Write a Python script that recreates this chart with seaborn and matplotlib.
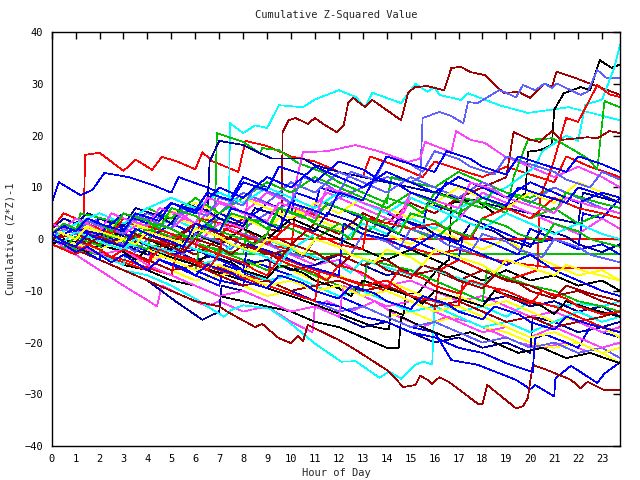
import matplotlib
matplotlib.use("Agg")
import matplotlib.pyplot as plt
import pandas as pd
import seaborn as sns

# each series: (hour, cumulative value) knots
red_a = [(0, 0), (0.5, -1), (1.3, -1.5), (1.4, 16.3), (2, 16.7), (2.4, 15.3), (3, 13.2), (3.5, 15.4), (4.2, 13.4), (4.6, 15.9), (5.2, 15.1), (6, 13.5), (6.3, 16.8), (6.7, 15.1), (7.8, 13), (8.1, 19), (9, 18), (10, 16), (11, 15), (12, 13), (13, 12), (13.3, 16), (14.5, 14), (15.5, 12), (16, 15), (17, 13.5), (18, 12), (19, 14), (20, 12.5), (21, 11), (21.5, 16), (22.5, 14), (23.75, 12)]
red_b = [(0, 0), (1, 2), (2, 0.5), (3, -1), (3.2, 3), (4.5, 1), (5.5, 0), (23.75, 0)]
red_c = [(0, 0), (1.5, -2), (2, 2), (4, 0), (6, -2), (6.2, 4), (8, 2), (9, -1), (10, -2), (10.2, 6), (12, 3), (13, 1), (14.5, -1), (16, -3), (17, -2), (18.5, -4), (20, -5), (21, -5.6), (23.75, -5.6)]
red_d = [(0, 0), (2, -3), (4, -6), (4.2, -2), (6, -4), (8, -7), (9, -8), (9.2, -3), (11, -6), (12.5, -8), (14, -10), (15, -12), (16, -14), (16.2, -6), (17, -4), (18, -6), (19, -8), (20.3, -6), (20.4, 8), (20.9, 13.8), (21.5, 23.4), (22, 22.7), (22.8, 29.8), (23.3, 28), (23.75, 27.5)]
red_e = [(0, 0), (1, -1.5), (3, -4), (5, -7), (5.2, -3), (7, -6), (9, -9), (11, -12), (11.2, -6), (13, -9), (14, -8), (15, -11), (17, -13), (17.2, -8), (19, -10), (20, -12), (21, -13), (22, -15), (23, -17), (23.75, -18)]
red_f = [(0, 2), (0.5, 5), (1.5, 3), (2.5, 1), (3, 4), (5, 1), (6, -1), (7, -3), (7.2, 2), (9, -1), (10, 3), (11, 1), (12, -1), (13, -2), (13.2, 4), (15, 2), (16, 3), (17.5, 0), (18, 4), (19, 6), (20, 4), (21, 8), (22, 6), (23, 5), (23.75, 4)]
red_g = [(0, -1), (0.5, -2), (1, -3), (1.5, -1), (2, -2), (2.5, -3.5), (3, -2), (3.5, -3), (4, -4.5), (4.5, -2), (5, -3), (6, -4.5), (6.5, -6), (7, -3), (8, -4.5), (8.5, -6), (9, -7), (9.5, -4), (10, -5), (11, -6.5), (11.5, -8), (12, -5), (13, -6.5), (13.5, -8), (14, -9.5), (14.5, -6), (15.5, -7.5), (16, -9), (17, -10.5), (17.5, -8), (18.5, -9.5), (19, -11), (20, -12.5), (20.5, -10), (21.5, -11.5), (22, -13), (23, -14.5), (23.75, -14)]

green_a = [(0, 0), (1, -1), (2, 1), (3, -1), (4, -2), (5, 0), (6, -2), (7.4, -2.9), (23.75, -2.9)]
green_b = [(0, 0), (1, -1), (2, 1.5), (3, 0), (4, 3), (5, 1), (6, 0), (6.8, 0), (6.9, 20.5), (7.4, 19.7), (8, 18.8), (8.7, 16.6), (8.8, 17.6), (9.5, 17.2), (10.3, 14.7), (11.3, 13), (12, 11), (13, 9), (14, 7), (14.2, 12), (15, 11), (16, 10), (17, 13), (18, 11), (19, 9), (20, 8), (21, 10), (22, 8), (23, 6), (23.75, 5)]
green_c = [(0, 0), (1, 3), (2, 1), (3, -1), (4, 2), (6, -1), (8, -3), (8.2, 4), (10, 2), (11, 0), (12, 3), (13, 1), (14, 4), (15, 2), (16, 0), (17, 4), (17.2, 8), (18, 7), (19, 5), (19.3, 12), (19.9, 19.2), (20.9, 19.5), (21.3, 18.6), (22.4, 15.6), (22.8, 13.5), (23.1, 26.7), (23.75, 25.5)]
green_d = [(0, 0), (1, -2), (2, -3), (2.2, 1), (4, -2), (5, -4), (6, -6), (6.2, -1), (8, -4), (9, -6), (10, -5), (11, -7), (12, -9), (13, -10), (13.2, -4), (15, -6), (16, -8), (17, -10), (18, -12), (18.2, -6), (20, -9), (21, -10), (22, -12), (23, -13), (23.75, -14)]
green_e = [(0, 0), (1, 1), (1.2, 5), (3, 3), (4, 6), (5, 4), (6, 8), (7, 5), (8, 8), (9, 11), (10, 9), (11, 12), (12, 10), (13, 8), (14, 6), (15, 9), (16, 7), (17, 5), (18, 8), (19, 6), (20, 4), (21, 6), (22, 3), (23, 5), (23.75, 4)]
green_f = [(0, -1), (0.5, -1.8), (1, 0.5), (1.5, -0.5), (2, -1.3), (2.5, 1), (3, 0), (3.5, -1), (4, -2), (4.25, 3), (5, 2), (5.5, 0.8), (6, 0), (6.5, 2.5), (7, 1.5), (8, 0), (8.5, -1), (9, 1), (9.5, 6), (10, 5), (11, 3.5), (11.5, 7), (12, 6), (13, 4.5), (13.5, 3), (14, 8), (15, 6.5), (15.5, 5), (16, 9), (17, 7.5), (18, 6), (18.5, 10), (19.5, 8), (20.5, 6.5), (21, 5), (21.5, 9), (22.5, 7.5), (23.75, 6)]
green_g = [(0, 1), (0.5, 3), (1, 2), (1.5, 4), (2, 3), (2.5, 1.5), (3, 5), (4, 3.5), (4.5, 2), (5, 6), (6, 4.5), (6.5, 3), (7, 1.5), (7.5, 5), (8.5, 3.5), (9, 2), (9.5, 6), (10.5, 4.5), (11, 3), (12, 1.5), (12.5, 0), (13, 4), (14, 2.5), (14.5, 1), (15, 5), (16, 3.5), (16.5, 2), (17.5, 0.5), (18, 4), (19, 2.5), (19.5, 1), (20.5, -0.5), (21, 3), (22, 1.5), (22.5, 0), (23.75, -1.5)]

blue_a = [(0, 7), (0.3, 11), (1.2, 8.5), (1.7, 9.5), (2.2, 12.8), (3.2, 12), (4.2, 10.5), (5, 9), (5.3, 12), (6.5, 10), (7.5, 8), (8, 12), (9, 10), (10, 8), (11, 6), (11.2, 10), (12.5, 8), (13.5, 6), (14.5, 4), (15.5, 2), (15.7, 7), (17, 5), (18, 3), (19, 1), (20, -1), (21, 0), (22, -2), (23, -1), (23.75, -3)]
blue_b = [(0, 0), (1, -2), (2, -3), (3, -5), (3.2, -1), (5, -4), (6, -6), (7, -8), (8, -9), (8.2, -4), (10, -7), (11, -9), (12, -11), (13, -13), (14, -15), (15, -17), (16, -18), (16.7, -23.4), (17.8, -24.3), (19.4, -27.2), (20, -29), (20.2, -28.2), (21, -30.4), (21.05, -26.9), (21.7, -24.5), (22.8, -27.8), (23.1, -26), (23.75, -23.8)]
blue_c = [(0, 0), (1, -1.5), (2, -4), (2.2, 0), (4, -3), (5, -5), (6, -7), (7, -9), (7.2, -5), (9, -8), (10, -10), (11, -12), (12, -13), (13, -15), (14, -16), (15, -18), (16, -19), (17, -21), (18, -22), (19, -24), (20.1, -25.7), (20.2, -19.2), (20.6, -18.4), (21.5, -20), (22, -21), (22.5, -17), (23, -18), (23.75, -19)]
blue_d = [(0, 0), (0.5, 3), (1.5, 1), (2, 4), (3, 2), (4, 0), (5, 3), (6, 1), (7, 5), (8, 3), (9, 7), (10, 5), (10.2, 9), (12, 6), (13, 4), (14, 2), (15, 0), (16, -2), (17, -4), (17.2, 1), (18.5, -1), (19.5, -3), (20, 2), (21, 0), (22, -2), (22.2, 5), (23, 4), (23.75, 8)]
blue_e = [(0, 0), (1, -1), (2, -2), (3, 1), (4, -1), (5, -3), (6, -2), (7, -4), (8, -6), (8.2, -1), (9.5, -3), (10.5, -5), (12, -7), (12.2, 3), (13, 1), (14, 0), (15, -2), (16, 1), (17, -1), (18, -3), (19, -5), (20, -3), (21, -6), (22, -8), (23, -10), (23.75, -11)]
blue_f = [(0, 0), (1, 2), (2, 1), (3, 5), (4, 3), (5, 7), (6, 5), (7, 10), (8, 8), (9, 12), (10, 10), (11, 14), (12, 12), (13, 10), (14, 13), (15, 11), (16, 9), (17, 12), (18, 10), (19, 8), (20, 11), (21, 9), (22, 7), (23, 9), (23.75, 8)]
blue_g = [(0, 1), (0.5, -0.5), (1, -1.5), (1.5, 1), (2, 0), (3, -1.5), (3.5, 2), (4, 1), (5, -0.5), (5.5, -1.5), (6, 3), (7, 1.5), (7.5, 6), (8.5, 4.5), (9, 3), (9.5, 2), (10, 7), (11, 5.5), (11.5, 4.5), (12, 9), (13, 7.5), (13.5, 12), (14.5, 10.5), (15, 9), (16, 7.5), (16.5, 11), (17.5, 9.5), (18, 8), (19, 6.5), (19.5, 10), (20.5, 8.5), (21.5, 7), (22, 10), (23, 8.5), (23.75, 7)]
blue_h = [(0, 0), (0.5, -1), (1, -2.5), (1.5, -1.5), (2, -3), (2.5, -4.5), (3, -3), (3.5, -4.5), (4, -6), (4.5, -4), (5.5, -5.5), (6, -7), (6.5, -5), (7.5, -6.5), (8, -8), (9, -9.5), (9.5, -7), (10.5, -8.5), (11, -10), (12, -11.5), (12.5, -9), (13.5, -10.5), (14, -12), (15, -13.5), (15.5, -11), (16.5, -12.5), (17, -14), (18, -15.5), (18.5, -13), (19.5, -14.5), (20, -16), (21, -17.5), (21.5, -15), (22.5, -16.5), (23.75, -18)]
blue_i = [(0, 1), (0.5, 2.5), (1, 1.5), (1.5, 4), (2, 3), (3, 1.5), (3.5, 5), (4.5, 3.5), (5, 7), (6, 5.5), (6.5, 9), (7.5, 7.5), (8, 11), (9, 9.5), (9.5, 14), (10.5, 12.5), (11, 11), (12, 15), (13, 13.5), (13.5, 12), (14, 16), (15, 14.5), (16, 13), (16.5, 17), (17.5, 15.5), (18, 14), (19, 12.5), (19.5, 16), (20.5, 14.5), (21.5, 13), (22, 16), (23, 14.5), (23.75, 13)]

mag_a = [(0, 0), (1, -3), (2, -6), (3, -9), (4, -11.8), (4.4, -13), (4.6, -9), (5.5, -11), (6.5, -13), (7, -12), (8, -14), (9, -13), (10, -16), (10.9, -18), (11, -13), (11.5, -12), (12.5, -14), (13.5, -12), (14.5, -15), (15.5, -17), (16.5, -15), (17.5, -16), (18.5, -18), (19.5, -20), (20.5, -21), (21.5, -20), (22.5, -22), (23.75, -24)]
mag_b = [(0, 0), (1, 2), (2, 0), (3, 4), (4, 2), (5, 5), (6, 3), (7, 7), (8, 5), (9, 9), (10, 7), (10.5, 16.8), (11.5, 17), (12.7, 18.2), (13.8, 16.8), (14.9, 14.9), (15.4, 15.6), (15.6, 18.8), (16.7, 16.8), (16.9, 20.9), (17.5, 19.2), (18.1, 18.6), (19, 15.8), (20, 14), (21, 12), (22, 14), (23, 12), (23.75, 10)]
mag_c = [(0, 0), (1, -2), (1.2, 2), (2.5, 0), (3.5, -2), (4.5, -4), (5, 1), (6, -1), (7, 3), (8, 1), (9, -1), (10, -3), (11, -5), (12, -4), (13, -7), (14, -9), (15, -8), (16, -10), (17, -12), (18, -11), (19, -13), (20, -15), (21, -14), (22, -16), (23, -18), (23.75, -17)]
mag_d = [(0, 0), (1, 1), (2, 3), (3, 1), (4, 4), (5, 2), (6, 6), (7, 4), (8, 2), (8.2, 8), (9.5, 6), (10.5, 4), (11.5, 9), (12.5, 7), (13.5, 5), (14.5, 3), (15, 8), (16, 6), (17, 4), (18, 9), (19, 7), (20, 5), (21, 3), (22, 1), (23, 4), (23.75, 2)]
mag_e = [(0, 0), (1, -1), (2, -3), (3, -2), (4, -5), (5, -7), (6, -9), (7, -11), (8, -10), (9, -12), (10, -14), (11, -13), (12, -15), (12.2, -9), (13, -11), (14, -13), (15, -12), (16, -14), (17, -16), (18, -18), (19, -17), (20, -19), (21, -17), (22, -19), (23, -21), (23.75, -20)]
mag_f = [(0, 3), (0.5, 2), (1, 4), (1.5, 3), (2, 1.5), (2.5, 5), (3, 4), (4, 2.5), (4.5, 6), (5.5, 4.5), (6, 3), (6.5, 8), (7.5, 6.5), (8, 5), (9, 3.5), (9.5, 7), (10.5, 5.5), (11, 4), (11.5, 10), (12.5, 8.5), (13, 7), (14, 5.5), (14.5, 4), (15, 9), (16, 7.5), (17, 6), (17.5, 11), (18.5, 9.5), (19, 8), (20, 6.5), (21, 5), (21.5, 8), (22.5, 6.5), (23.75, 5)]

cyan_a = [(0, 0), (1, 2), (2, 0), (3, 3), (4, 1), (5, 4), (6, 2), (7, 4), (7.4, 3), (7.45, 22.4), (8, 20.5), (8.5, 22), (9, 21.5), (9.5, 25.9), (10.5, 25.5), (11, 27), (12, 28.8), (12.7, 27.5), (13.1, 25.5), (13.4, 28.3), (14.6, 26.3), (15.2, 30), (15.7, 28.5), (16, 29.4), (16.2, 27.9), (17.1, 26.9), (17.4, 28.2), (18.7, 25.9), (19.9, 24.4), (21.6, 25.5), (23.75, 23)]
cyan_b = [(0, 0), (1, -2), (2, -4), (3, -6), (4, -7), (5, -9), (6.1, -11.8), (7.2, -15), (7.5, -13.7), (8, -12.8), (9.1, -13.4), (9.9, -16), (11, -20.2), (12.1, -23.7), (12.7, -23.6), (13.7, -26.8), (14.1, -25.6), (14.6, -27), (15.2, -24.3), (15.5, -23.7), (15.9, -24.2), (16, -12), (17, -14), (18, -13), (19, -15), (20, -12), (21, -13), (22, -12.5), (23, -13), (23.75, -12)]
cyan_c = [(0, 0), (1, 1), (2, -1), (3, 2), (4, 0), (5, -2), (6, 1), (7, -1), (8, 2), (9, 0), (10, -2), (11, 1), (12, -1), (13, 3), (14, 1), (15, 4), (16, 2), (17, 6), (18, 8), (19, 10), (20.2, 14), (20.5, 17), (21.5, 20), (22, 19), (22.3, 26), (23, 27), (23.5, 33), (23.75, 37.5)]
cyan_d = [(0, 0), (1, -1), (2, -3), (3, -5), (3.2, -1), (5, -3), (6, -5), (7, -4), (8, -6), (9, -8), (10, -7), (11, -9), (12, -11), (13, -10), (14, -12), (15, -14), (16, -13), (17, -15), (18, -17), (19, -16), (20, -18), (21, -16), (22, -14), (23, -16), (23.75, -15)]
cyan_e = [(0, 0), (1, 3), (2, 5), (3, 3), (4, 6), (5, 8), (6, 6), (7, 9), (8, 7), (9, 10), (10, 8), (11, 6), (12, 9), (13, 7), (14, 5), (15, 8), (16, 6), (17, 4), (18, 2), (19, 5), (20, 3), (21, 1), (22, 3), (23, 1), (23.75, 0)]
cyan_f = [(0, 0.5), (0.5, -0.5), (1, 1.5), (1.5, 0.5), (2, -0.5), (3, -2), (3.5, 0), (4, -1), (5, -2.5), (5.5, -1), (6, -2), (7, -3.5), (7.5, -1), (8, -2), (9, -3.5), (9.5, -5), (10, -2), (11, -3.5), (12, -5), (12.5, -6.5), (13, -4), (14, -5.5), (15, -7), (15.5, -5), (16, -6), (17, -7.5), (18, -9), (18.5, -7), (19.5, -8.5), (20, -10), (21, -11.5), (21.5, -9), (22.5, -10.5), (23.75, -12)]

dred_a = [(0, 0), (1, -1), (2, 1), (3, -1), (4, 2), (5, 0), (6, 3), (7, 1), (8, 4), (9, 2), (9.6, 1.5), (9.65, 20.7), (9.9, 23), (10.2, 23.4), (10.7, 22.3), (11, 23.4), (11.4, 22.1), (11.9, 20.7), (12.2, 22), (12.4, 26.5), (12.6, 27.3), (13.1, 25.5), (13.4, 26.9), (14.6, 23), (14.9, 28.4), (15.2, 29.4), (15.7, 29.6), (16.4, 28.8), (16.7, 33.1), (17.1, 33.3), (17.5, 32.3), (18.1, 31.7), (18.9, 28.2), (19.5, 28.5), (20, 27.3), (20.6, 30.1), (20.9, 29.4), (21.1, 32.4), (21.8, 31.3), (23.75, 27.9)]
dred_b = [(0, 0), (1, -2), (2, -4), (3, -6), (4, -8), (5, -10), (6, -12), (7, -13), (7.4, -14.2), (8.5, -17), (8.8, -16.4), (9.5, -19.2), (10, -20.1), (10.3, -18.7), (10.5, -19.8), (10.7, -16.6), (12, -19.5), (12.7, -21.4), (14, -25.3), (14.7, -28.6), (15.2, -28.2), (15.4, -26.4), (15.7, -27.2), (15.9, -28), (16.2, -26.7), (16.6, -27.6), (17.8, -31.8), (18, -32), (18.2, -28.2), (19.4, -32.7), (19.7, -32.3), (19.9, -30.7), (20.1, -24.3), (20.7, -25.3), (21.7, -27.2), (22.1, -28.8), (22.4, -27.6), (23.1, -29.2), (23.75, -29.2)]
dred_c = [(0, 0), (1, 2), (2, 0), (3, -2), (4, 1), (5, -1), (6, -3), (7, 0), (8, -2), (9, 1), (10, -1), (11, 3), (12, 1), (13, 5), (14, 3), (15, 7), (16, 5), (17, 8), (18, 10), (19, 12), (19.3, 20.7), (20, 19.2), (20.4, 18.8), (20.9, 20.9), (21.3, 19.2), (22.4, 19.7), (22.8, 19.5), (23.3, 20.9), (23.75, 20.5)]
dred_d = [(0, 0), (1, -1), (2, -3), (3, -2), (4, -4), (5, -6), (6, -5), (7, -7), (8, -9), (9, -8), (10, -10), (11, -9), (12, -8), (13, -10), (14, -9), (15, -11), (16, -13), (17, -12), (18, -14), (19, -16), (20, -15), (21, -17), (22, -16), (23, -15), (23.75, -14)]
dred_e = [(0, 0), (1, 1), (2, -1), (3, 0), (4, -2), (5, -1), (6, 3), (7, 1), (8, -1), (9, -3), (10, -2), (11, -4), (12, -3), (13, -5), (14, -4), (15, -7), (16, -6), (17, -8), (18, -6), (19, -8), (20, -9), (21, -11), (22, -10), (23, -12), (23.75, -13)]
dred_f = [(0, 0), (0.5, 1), (1, 0), (1.5, -1), (2, 0.5), (2.5, -0.5), (3, -1.5), (3.5, 1), (4, 0), (5, -1.5), (5.5, -2.5), (6, 0), (7, -1.5), (7.5, -3), (8, -1), (9, -2.5), (9.5, -4), (10, -1), (11, -2.5), (11.5, -4), (12, -5.5), (12.5, -3), (13.5, -4.5), (14, -6), (15, -7.5), (15.5, -5), (16.5, -6.5), (17, -8), (18, -9.5), (18.5, -7), (19.5, -8.5), (20, -10), (21, -11.5), (21.5, -9), (22.5, -10.5), (23.75, -12)]

yel_a = [(0, 0), (1, -2), (2, -3), (3, -5), (4, -4), (5, -6), (6, -8), (7, -7), (8, -9), (9, -11), (10, -10), (11, -12), (12, -14), (13, -13), (14, -15), (15, -14), (16, -16), (17, -15), (18, -17), (19, -18), (20, -20), (21, -21), (22, -20), (23, -22), (23.75, -24)]
yel_b = [(0, 0), (1, 2), (2, 1), (3, 3), (4, 2), (5, 4), (6, 3), (7, 5), (8, 4), (9, 2), (10, 6), (11, 4), (12, 2), (13, 3), (14, 1), (15, -1), (16, 2), (17, 0), (18, -2), (19, 0), (20, -3), (21, -5), (22, -7), (23, -6), (23.75, -8)]
yel_c = [(0, 0), (1, -1), (2, 0), (3, -2), (4, -4), (5, -3), (6, -5), (7, -7), (8, -6), (9, -4), (10, -6), (11, -8), (12, -7), (13, -9), (14, -8), (15, -10), (16, -12), (17, -11), (18, -13), (19, -12), (20, -14), (21, -16), (22, -15), (23, -17), (23.75, -19)]
yel_d = [(0, 0), (1, 3), (2, 1), (3, 4), (4, 2), (5, 5), (6, 7), (7, 5), (8, 8), (9, 6), (10, 4), (11, 7), (12, 5), (13, 8), (14, 6), (15, 4), (16, 7), (17, 10), (18, 8), (19, 6), (20, 9), (21, 7), (22, 11), (23, 9), (23.75, 7)]
yel_e = [(0, 0), (1, -1), (2, -2), (3, 0), (4, -2), (5, -4), (6, -6), (7, -5), (8, -7), (9, -9), (10, -8), (11, -10), (12, -9), (13, -11), (14, -10), (15, -12), (16, -14), (17, -13), (18, -15), (19, -17), (20, -19), (21, -18), (22, -20), (23, -22), (23.75, -21)]
yel_f = [(0, 2), (0.5, 1), (1, 0), (1.5, 2.5), (2, 1.5), (3, 0), (3.5, -1), (4, 1.5), (5, 0), (5.5, -1), (6, 2), (7, 0.5), (7.5, -1), (8.5, -2.5), (9, 0), (10, -1.5), (10.5, -3), (11, 0), (12, -1.5), (12.5, -3), (13.5, -4.5), (14, -2), (15, -3.5), (15.5, -5), (16, -2), (17, -3.5), (18, -5), (18.5, -6.5), (19, -4), (20, -5.5), (21, -7), (21.5, -5), (22.5, -6.5), (23.75, -8)]

blk_a = [(0, 0), (2, -1), (2.2, 2), (5, -3), (6, -5), (8, -8), (10, -11), (11.6, -13.7), (13.5, -17), (14.1, -17.5), (14.15, -13.7), (14.7, -14.7), (14.8, -10.5), (15.3, -10.5), (16.2, -5.4), (16.6, -4), (16.7, 7), (17.7, 7.6), (18.5, 5), (19.3, 7), (19.8, 8.9), (19.9, 16.9), (20.4, 17.2), (20.9, 18.2), (21, 25), (21.4, 28.2), (22.1, 29.4), (22.5, 28.8), (22.9, 34.6), (23.4, 33.1), (23.75, 33.8)]
blk_b = [(0, 0), (1, -2), (2, -3), (3, -5), (4, -6), (5, -8), (6, -9), (7, -11), (8, -12), (9, -13), (10, -14), (11, -16), (12, -17), (13, -19), (14, -21), (14.5, -21), (14.6, -15), (15.5, -17), (16.5, -19), (17.5, -18), (18.5, -20), (19.5, -22), (20.5, -21), (21.5, -23), (22.5, -22), (23.75, -24)]
blk_c = [(0, 0), (1, 1), (2, -1), (3, 2), (4, 0), (5, -2), (6, 1), (7, -1), (8, 2), (9, 0), (10, 4), (11, 2), (12, 0), (13, -2), (14, -4), (15, -2), (16, -4), (17, -6), (18, -8), (19, -6), (20, -8), (21, -7), (22, -9), (23, -8), (23.75, -10)]
blk_d = [(0, -1), (0.5, 0), (1, -1.5), (1.5, -2.5), (2, -1), (3, -2.5), (3.5, -4), (4, -2), (5, -3.5), (6, -5), (6.5, -3), (7.5, -4.5), (8, -6), (9, -7.5), (9.5, -5), (10.5, -6.5), (11, -8), (12, -9.5), (12.5, -11), (13, -8), (14, -9.5), (15, -11), (15.5, -12.5), (16, -10), (17, -11.5), (18, -13), (18.5, -10), (19.5, -11.5), (20.5, -13), (21, -14.5), (21.5, -12), (22.5, -13.5), (23.75, -15)]

dblu_a = [(0, 0), (1, -2), (2, -4), (3, -6), (4, -8), (5.2, -12.1), (6.3, -15.6), (7, -14), (7.1, -9), (8, -10), (9, -12), (10, -14), (11, -13), (12, -15), (13, -17), (14, -16), (15, -18), (16, -20), (17, -19), (18, -21), (19, -20), (20, -22), (20.1, -15), (21, -16), (22, -18), (23, -17), (23.75, -16)]
dblu_b = [(0, 0), (1, 2), (2, 1), (3, 3), (4, 5), (5, 4), (6, 6), (6.5, 5), (6.6, 15), (7, 19), (8, 18.2), (8.7, 16.6), (9.2, 15.6), (10.5, 15.6), (11, 14.3), (12, 13), (13, 12), (14, 11), (15, 10), (16, 9), (17, 8), (18, 7), (19, 6), (20, 5), (21, 4), (22, 3), (22.2, 9), (23, 8), (23.75, 7)]
dblu_c = [(0, 0), (1, -1), (2, 1), (3, -1), (4, -3), (5, -2), (6, -4), (7, -3), (8, -5), (9, -4), (10, -6), (11, -5), (12, -3), (13, -5), (14, -7), (15, -6), (16, -8), (17, -10), (18, -12), (19, -11), (20, -13), (21, -12), (22, -14), (23, -13), (23.75, -15)]
dblu_d = [(0, 2), (0.5, 4), (1, 3), (1.5, 5), (2, 4), (3, 2.5), (3.5, 6), (4.5, 4.5), (5, 3), (5.5, 7), (6.5, 5.5), (7, 4), (8, 2.5), (8.5, 6), (9.5, 4.5), (10, 3), (11, 1.5), (11.5, 5), (12.5, 3.5), (13, 2), (14, 0.5), (14.5, 4), (15.5, 2.5), (16, 1), (17, -0.5), (17.5, 3), (18.5, 1.5), (19, 0), (20, -1.5), (20.5, 2), (21.5, 0.5), (22, -1), (23, -2.5), (23.75, -1)]

lblu_a = [(0, 0), (1, 1), (2, -1), (3, 2), (4, 0), (5, 3), (6, 1), (7, 4), (8, 2), (9, 5), (10, 7), (11, 5), (12, 8), (13, 10), (14, 12), (15, 11), (15.4, 12), (15.5, 23.4), (16.2, 24.6), (16.7, 23.8), (17.2, 22.4), (17.4, 26.5), (17.8, 26.3), (18.7, 28.8), (18.9, 28.5), (19.4, 27.4), (19.7, 29.8), (20.2, 28.8), (20.6, 30.1), (20.9, 29.2), (21.1, 30.1), (22.1, 27.9), (22.4, 28.5), (22.8, 32.7), (23.2, 31.1), (23.75, 31.1)]
lblu_b = [(0, 0), (1, -1), (2, -3), (3, -2), (4, -4), (5, -6), (6, -5), (7, -7), (8, -9), (9, -8), (10, -10), (11, -12), (12, -14), (13, -13), (14, -15), (15, -17), (16, -16), (17, -18), (18, -20), (19, -19), (20, -21), (21, -20), (22, -22), (23, -21), (23.75, -23)]
lblu_c = [(0, 0), (1, 2), (2, 4), (3, 2), (4, 5), (5, 3), (6, 7), (7, 5), (8, 9), (9, 7), (10, 11), (11, 9), (12, 13), (13, 11), (14, 9), (15, 12), (16, 10), (17, 8), (18, 11), (19, 9), (20, 7), (21, 10), (22, 8), (23, 6), (23.75, 5)]
lblu_d = [(0, -0.5), (0.5, 1), (1, 0), (1.5, -1.5), (2, 0.5), (3, -1), (3.5, -2.5), (4, 0), (5, -1.5), (5.5, -3), (6, 1), (7, -0.5), (7.5, -2), (8, 1), (9, -0.5), (9.5, -2), (10.5, -3.5), (11, 0), (12, -1.5), (12.5, -3), (13, 1), (14, -0.5), (14.5, -2), (15, 2), (16, 0.5), (16.5, -1), (17.5, -2.5), (18, 1), (19, -0.5), (19.5, -2), (20.5, -3.5), (21, 0), (22, -1.5), (22.5, -3), (23.75, -4.5)]
lblu_e = [(0, 0.5), (0.5, 2), (1, 1), (1.5, 3.5), (2, 2.5), (3, 1), (3.5, 4.5), (4.5, 3), (5, 2), (5.5, 6), (6.5, 4.5), (7, 8), (8, 6.5), (8.5, 10), (9.5, 8.5), (10, 7), (10.5, 12), (11.5, 10.5), (12, 9), (12.5, 13), (13.5, 11.5), (14, 16), (15, 14.5), (15.5, 13), (16, 17), (17, 15.5), (17.5, 14), (18.5, 12.5), (19, 16), (20, 14.5), (21, 13), (21.5, 11.5), (22.5, 10), (23, 13), (23.75, 11.5)]

hour_ticks = list(range(0, 24))
value_ticks = [-40, -30, -20, -10, 0, 10, 20, 30, 40]

colors = {
    "red": "#ff0000", "green": "#00c000", "blue": "#0000ff", "mag": "#ff40ff",
    "cyan": "#00ffff", "dred": "#a00000", "yel": "#ffff00", "blk": "#000000",
    "dblu": "#0000a0", "lblu": "#6060ff",
}
series = {
    "red_a": red_a, "green_a": green_a, "blue_a": blue_a, "mag_a": mag_a, "cyan_a": cyan_a,
    "dred_a": dred_a, "yel_a": yel_a, "blk_a": blk_a, "dblu_a": dblu_a, "lblu_a": lblu_a,
    "red_b": red_b, "green_b": green_b, "blue_b": blue_b, "mag_b": mag_b, "cyan_b": cyan_b,
    "dred_b": dred_b, "yel_b": yel_b, "blk_b": blk_b, "dblu_b": dblu_b, "lblu_b": lblu_b,
    "red_c": red_c, "green_c": green_c, "blue_c": blue_c, "mag_c": mag_c, "cyan_c": cyan_c,
    "dred_c": dred_c, "yel_c": yel_c, "blk_c": blk_c, "dblu_c": dblu_c, "lblu_c": lblu_c,
    "red_d": red_d, "green_d": green_d, "blue_d": blue_d, "mag_d": mag_d, "cyan_d": cyan_d,
    "dred_d": dred_d, "yel_d": yel_d, "blk_d": blk_d, "dblu_d": dblu_d, "lblu_d": lblu_d,
    "red_e": red_e, "green_e": green_e, "blue_e": blue_e, "mag_e": mag_e, "cyan_e": cyan_e,
    "dred_e": dred_e, "yel_e": yel_e, "lblu_e": lblu_e,
    "red_f": red_f, "green_f": green_f, "blue_f": blue_f, "mag_f": mag_f, "cyan_f": cyan_f,
    "dred_f": dred_f, "yel_f": yel_f,
    "red_g": red_g, "green_g": green_g, "blue_g": blue_g, "blue_h": blue_h, "blue_i": blue_i,
}

rows = []
for name, pts in series.items():
    for h, v in pts:
        rows.append({"series": name, "hour": h, "value": v})
df = pd.DataFrame(rows)
palette = {name: colors[name.rsplit("_", 1)[0]] for name in series}

sns.set_style("white")
plt.rcParams["font.family"] = ["DejaVu Sans Mono"]
plt.rcParams["lines.antialiased"] = False

fig = plt.figure(figsize=(6.4, 4.8), dpi=100)
ax = fig.add_axes([0.0808, 0.0708, 0.888, 0.862])
sns.lineplot(data=df, x="hour", y="value", hue="series", units="series", palette=palette,
             estimator=None, sort=False, legend=False, linewidth=0.5, ax=ax)

ax.set_xlim(0, 23.75)
ax.set_ylim(-40, 40)
ax.set_xticks(hour_ticks)
ax.set_yticks(value_ticks)
ax.tick_params(direction="in", length=5, width=1, top=True, right=True, labelsize=7.5, pad=6, colors="black")
for s in ax.spines.values():
    s.set_color("black")
    s.set_linewidth(1)
ax.set_xlabel("")
ax.set_ylabel("")

fig.text(336 / 640, 1 - 15 / 480, "Cumulative Z-Squared Value", ha="center", va="center", fontsize=7.5)
fig.text(336 / 640, 1 - 473 / 480, "Hour of Day", ha="center", va="center", fontsize=7.5)
fig.text(11 / 640, 1 - 239 / 480, "Cumulative (Z*Z)-1", ha="center", va="center", rotation=90, fontsize=7.5)

fig.savefig("out.png", dpi=100)
